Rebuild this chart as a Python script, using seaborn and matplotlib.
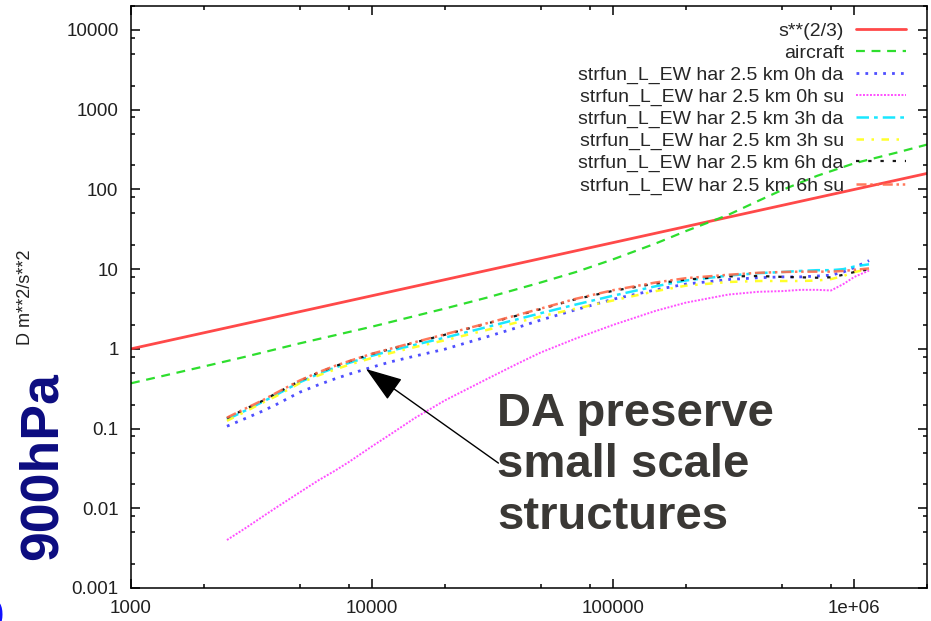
import numpy as np
import pandas as pd
import matplotlib
matplotlib.use("Agg")
import matplotlib.pyplot as plt
import seaborn as sns
from matplotlib.ticker import FixedLocator, FixedFormatter, LogLocator, NullFormatter

# ---------------- data ----------------
x_ref = [1000, 2000000]
y_ref = [1.0, 158.7]

x_air = [1000, 2000, 3000, 5000, 7000, 10000, 20000, 30000, 50000, 70000,
         100000, 150000, 200000, 300000, 400000, 500000, 700000, 1000000, 1500000, 2000000]
y_air = [0.37, 0.6, 0.8, 1.17, 1.48, 1.9, 3.2, 4.4, 6.8, 9.2,
         13.3, 21, 30, 48, 72, 98, 148, 213, 290, 365]

x_sf = [2500, 3000, 3500, 4000, 5000, 6000, 7000, 8000, 10000, 12000, 15000,
        20000, 30000, 40000, 50000, 70000, 100000, 150000, 200000, 300000,
        400000, 500000, 600000, 700000, 800000, 900000, 1000000, 1150000]

y_0h_da = [0.107, 0.135, 0.165, 0.2, 0.285, 0.355, 0.42, 0.48, 0.59, 0.69, 0.81,
           0.99, 1.42, 1.85, 2.3, 3.1, 4.2, 5.5, 6.5, 7.4,
           7.8, 8.0, 8.0, 8.2, 8.4, 9.2, 10.5, 12.8]
y_0h_su = [0.0040, 0.0057, 0.0078, 0.0102, 0.0158, 0.0225, 0.0295, 0.038, 0.060, 0.086, 0.135,
           0.225, 0.42, 0.65, 0.9, 1.35, 2.0, 3.0, 3.8, 4.8,
           5.2, 5.3, 5.5, 5.5, 5.4, 6.5, 8.0, 9.6]
y_3h_da = [0.13, 0.17, 0.215, 0.265, 0.38, 0.485, 0.58, 0.665, 0.82, 0.95, 1.12,
           1.38, 1.88, 2.35, 2.8, 3.6, 4.65, 6.1, 7.2, 8.3,
           8.9, 9.2, 9.5, 9.7, 9.7, 10.0, 10.8, 11.5]
y_3h_su = [0.125, 0.165, 0.21, 0.255, 0.37, 0.465, 0.55, 0.63, 0.77, 0.89, 1.05,
           1.28, 1.73, 2.15, 2.55, 3.2, 4.05, 5.3, 6.2, 6.9,
           7.1, 7.1, 7.1, 7.2, 7.5, 8.2, 9.2, 10.0]
y_6h_da = [0.135, 0.178, 0.222, 0.277, 0.395, 0.505, 0.605, 0.695, 0.865, 1.0, 1.2,
           1.5, 2.08, 2.62, 3.15, 4.2, 5.35, 6.6, 7.4, 8.1,
           8.2, 8.0, 7.9, 7.8, 7.9, 8.5, 9.2, 10.0]
y_6h_su = [0.137, 0.18, 0.225, 0.28, 0.40, 0.51, 0.61, 0.70, 0.87, 1.01, 1.21,
           1.52, 2.1, 2.65, 3.2, 4.25, 5.45, 6.8, 7.7, 8.5,
           9.0, 9.2, 9.3, 9.3, 9.3, 9.5, 9.8, 10.2]

labels = ["s**(2/3)", "aircraft",
          "strfun_L_EW har 2.5 km 0h da", "strfun_L_EW har 2.5 km 0h su",
          "strfun_L_EW har 2.5 km 3h da", "strfun_L_EW har 2.5 km 3h su",
          "strfun_L_EW har 2.5 km 6h da", "strfun_L_EW har 2.5 km 6h su"]

xtick_vals = [1000, 10000, 100000, 1000000]
xtick_labels = ["1000", "10000", "100000", "1e+06"]
ytick_vals = [0.001, 0.01, 0.1, 1, 10, 100, 1000, 10000]
ytick_labels = ["0.001", "0.01", "0.1", "1", "10", "100", "1000", "10000"]

# ---------------- style ----------------
sns.set_style("ticks")
plt.rcParams['font.family'] = ['Liberation Sans', 'DejaVu Sans']

fig = plt.figure(figsize=(9.31, 6.21), dpi=100)
ax = fig.add_axes([131 / 931, 1 - 588 / 621, 796 / 931, 582 / 621])

series = [
    (x_ref, y_ref, '#ff3535', '-', 2.0, 0.9),
    (x_air, y_air, '#22dd22', (0, (4, 3)), 1.6, 0.95),
    (x_sf, y_0h_da, '#3c3cff', (0, (1, 2.2)), 2.0, 0.9),
    (x_sf, y_0h_su, '#ff3cff', (0, (1, 0.8)), 1.4, 0.9),
    (x_sf, y_3h_da, '#00e5ff', (0, (5, 2, 1.5, 2)), 1.8, 0.9),
    (x_sf, y_3h_su, '#ffff20', (0, (3, 3, 1, 3)), 1.8, 0.95),
    (x_sf, y_6h_da, '#000000', (0, (1.5, 4)), 1.6, 0.9),
    (x_sf, y_6h_su, '#ff6a4a', (0, (4, 1.5, 1, 1.5, 1, 1.5)), 1.8, 0.9),
]

for (xs, ys, c, ls, lw, a), lab in zip(series, labels):
    sns.lineplot(x=xs, y=ys, ax=ax, color=c, linestyle=ls, linewidth=lw,
                 alpha=a, label=lab, estimator=None, sort=False)

ax.set_xscale('log')
ax.set_yscale('log')
ax.set_xlim(1000, 2000000)
ax.set_ylim(0.001, 20000)

ax.xaxis.set_major_locator(FixedLocator(xtick_vals))
ax.xaxis.set_major_formatter(FixedFormatter(xtick_labels))
ax.yaxis.set_major_locator(FixedLocator(ytick_vals))
ax.yaxis.set_major_formatter(FixedFormatter(ytick_labels))
ax.xaxis.set_minor_locator(LogLocator(base=10, subs=[2, 5, 8]))
ax.yaxis.set_minor_locator(LogLocator(base=10, subs=[2, 5, 8]))
ax.xaxis.set_minor_formatter(NullFormatter())
ax.yaxis.set_minor_formatter(NullFormatter())

ax.tick_params(which='both', direction='in', top=True, right=True,
               color='black', width=1.1, labelsize=13.5, labelcolor='#202020')
ax.tick_params(axis='y', which='major', length=6.5, pad=9)
ax.tick_params(axis='x', which='major', length=6.5, pad=8.5)
ax.tick_params(which='minor', length=3)
for s in ax.spines.values():
    s.set_visible(True)
    s.set_color('black')
    s.set_linewidth(1.1)

ax.set_xlabel("")
ax.set_ylabel("D m**2/s**2", fontsize=13, color='#222222')
ax.yaxis.set_label_coords(-0.122, 0.5)

handles, labs = ax.get_legend_handles_labels()
ax.legend(handles, labs, loc='upper right', bbox_to_anchor=(0.9736, 0.9715),
          frameon=False, markerfirst=False, fontsize=14, handlelength=2.55,
          handletextpad=0.65, labelspacing=0.22, borderpad=0, borderaxespad=0)

# annotation arrow
ax.annotate("", xy=(9440, 0.558), xytext=(33400, 0.0369),
            arrowprops=dict(arrowstyle='-|>,head_length=2.3,head_width=0.8',
                            mutation_scale=10, color='black', lw=1,
                            shrinkA=0, shrinkB=0))

fig.text(497 / 931, 1 - 392 / 621, "DA preserve\nsmall scale\nstructures",
         fontsize=34, fontweight='bold', color='#3a3835', ha='left', va='top',
         linespacing=1.22)

fig.text(43 / 931, 1 - 466 / 621, "900hPa", rotation=90, fontsize=38.5,
         fontweight='bold', color='#0c0c80', ha='center', va='center')

fig.text(-12 / 931, 1 - 612 / 621, "S", rotation=90, fontsize=38,
         fontweight='bold', color='#1010ff', ha='center', va='center')

fig.savefig("out.png", dpi=100)
